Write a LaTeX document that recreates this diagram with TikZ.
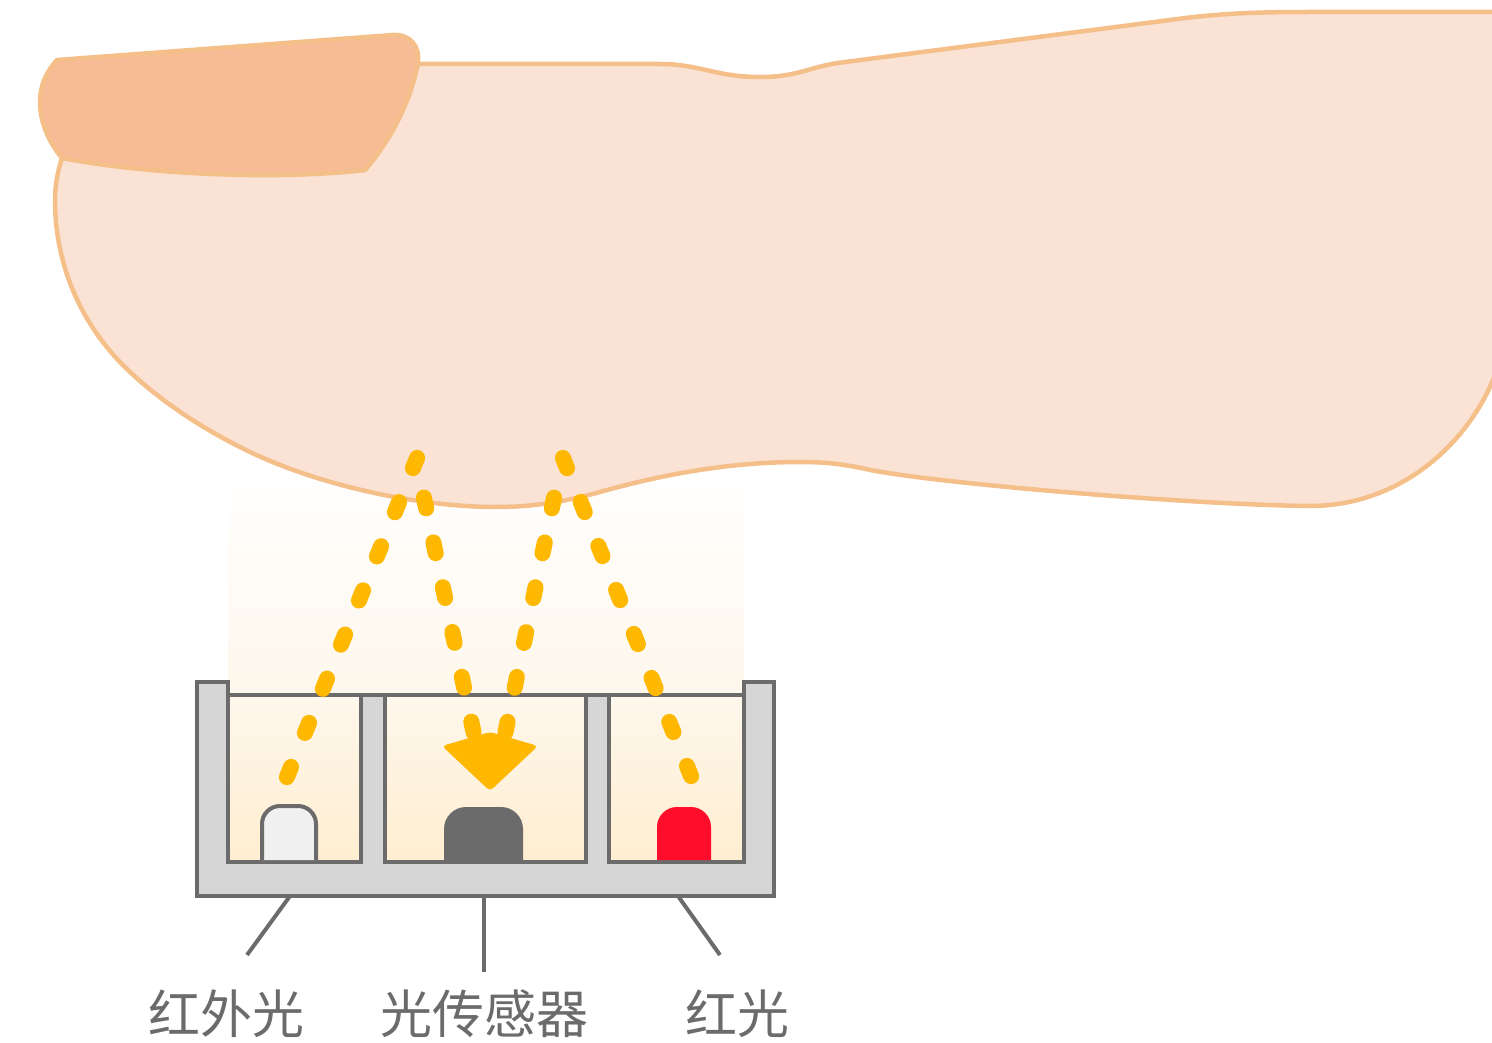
\documentclass[tikz,border=0pt]{standalone}
\usepackage{fontspec}
\newfontfamily\cjk{Noto Sans CJK SC}
\usetikzlibrary{arrows.meta,positioning,calc}

\definecolor{skinfill}{RGB}{250,226,212}
\definecolor{skinline}{RGB}{245,191,138}
\definecolor{nailfill}{RGB}{247,188,149}
\definecolor{casegray}{RGB}{107,107,107}
\definecolor{casefill}{RGB}{214,214,214}
\definecolor{rayyellow}{RGB}{255,184,0}
\definecolor{glowmid}{RGB}{254,247,236}
\definecolor{glowlow}{RGB}{255,238,208}
\definecolor{ledwhite}{RGB}{240,240,240}
\definecolor{ledred}{RGB}{255,13,43}

\begin{document}
\begin{tikzpicture}[x=1pt,y=-1pt,
    skin/.style={fill=skinfill,draw=skinline,line width=4.5pt,line join=round},
    casing/.style={draw=casegray,line width=4pt},
    ray/.style={draw=rayyellow,line width=16pt,line cap=round},
    leader/.style={draw=casegray,line width=4pt},
    tag/.style={text=casegray,font=\cjk\fontsize{52}{60}\selectfont,inner sep=0pt,anchor=base}]
    \clip (0,0) rectangle (1492,1043);
    % soft light above the sensor window
    \fill[top color=white,bottom color=glowmid] (228,470) rectangle (744,695);
    % finger
    \path[skin] (418,64) -- (660,64) .. controls (700,64) and (715,77) .. (760,77)
        .. controls (800,77) and (810,66) .. (845,62) -- (1170,20)
        .. controls (1220,13) and (1260,12) .. (1310,12) -- (1500,12) -- (1500,360)
        .. controls (1480,430) and (1410,506) .. (1310,506)
        .. controls (1200,505) and (950,485) .. (870,470)
        .. controls (840,463) and (820,462) .. (800,462)
        .. controls (720,462) and (650,478) .. (600,492)
        .. controls (560,503) and (530,507) .. (495,507)
        .. controls (430,507) and (330,490) .. (250,452)
        .. controls (200,428) and (160,400) .. (130,372)
        .. controls (85,330) and (55,270) .. (55,200)
        .. controls (55,185) and (58,170) .. (62,158) -- (70,90) -- cycle;
    % nail
    \path[skin,fill=nailfill] (57,60) -- (393,35) .. controls (410,34) and (420,46) .. (418,63)
        .. controls (412,95) and (395,135) .. (365,170)
        .. controls (280,180) and (150,175) .. (62,158)
        .. controls (47,140) and (40,120) .. (40,102)
        .. controls (40,86) and (46,72) .. (57,60) -- cycle;
    % sensor casing
    \path[casing,fill=casefill] (197,682) -- (228,682) -- (228,695) -- (744,695) -- (744,682)
        -- (774,682) -- (774,896) -- (197,896) -- cycle;
    \path[casing,top color=glowmid,bottom color=glowlow] (228,695) rectangle (361,862);
    \path[casing,top color=glowmid,bottom color=glowlow] (385,695) rectangle (586,862);
    \path[casing,top color=glowmid,bottom color=glowlow] (609,695) rectangle (744,862);
    % emitters and detector
    \path[casing,fill=ledwhite,rounded corners=18pt] (262,860) -- (262,806) -- (316,806) -- (316,860);
    \fill[casegray,rounded corners=22pt] (444,860) -- (444,807) -- (523,807) -- (523,860);
    \fill[ledred,rounded corners=20pt] (657,860) -- (657,807) -- (711,807) -- (711,860);
    % light paths
    \path[ray,dash pattern=on 11pt off 36.67pt] (286.9,777.1) -- (417.1,457.9);
    \path[ray,dash pattern=on 11pt off 34.8pt] (423.9,497.6) -- (473.6,732.4);
    \path[ray,dash pattern=on 11pt off 36.43pt] (691.1,776.1) -- (562.9,457.9);
    \path[ray,dash pattern=on 11pt off 34.8pt] (554.1,497.6) -- (505.4,732.4);
    \fill[rayyellow,rounded corners=4pt] (442,746) -- (490,732) -- (538,746) -- (490,791) -- cycle;
    % labels
    \coordinate (irfoot) at (290,896);
    \coordinate (irend) at (247,955);
    \coordinate (pdfoot) at (484,896);
    \coordinate (pdend) at (484,972);
    \coordinate (redfoot) at (678,896);
    \coordinate (redend) at (720,955);
    \node[tag] (irlabel) at (226,1033) {红外光};
    \node[tag] (pdlabel) at (484,1033) {光传感器};
    \node[tag] (redlabel) at (737,1033) {红光};
    \draw[leader] (irfoot) -- (irend);
    \draw[leader] (pdfoot) -- (pdend);
    \draw[leader] (redfoot) -- (redend);
\end{tikzpicture}
\end{document}
